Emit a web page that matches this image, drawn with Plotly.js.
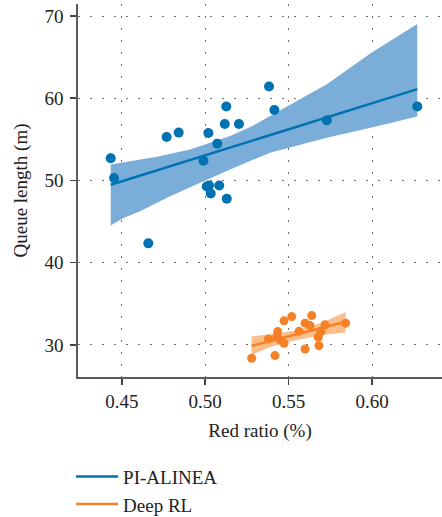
<!DOCTYPE html>
<html><head><meta charset="utf-8">
<script src="https://cdn.plot.ly/plotly-3.0.1.min.js"></script>
<style>html,body{margin:0;padding:0;background:#fff}#chart{width:442px;height:517px}</style>
</head><body><div id="chart"></div>
<script>
// ---- data ----
const seriesNames = ["PI-ALINEA", "Deep RL"];

const piX = [0.4434,0.4454,0.4659,0.4769,0.4841,0.4989,0.5019,0.5009,0.5023,0.5033,0.5084,0.5129,0.5072,0.5117,0.5126,0.5202,0.5382,0.5414,0.5728,0.6270];
const piY = [52.70,50.30,42.35,55.28,55.82,52.40,55.77,49.27,49.39,48.41,49.39,47.77,54.48,56.87,58.99,56.87,61.43,58.57,57.32,58.99];

const rlX = [0.5278,0.5378,0.5418,0.5434,0.5428,0.5448,0.5472,0.5472,0.5518,0.5562,0.5598,0.5628,0.5638,0.5677,0.5681,0.5693,0.5717,0.5841,0.5598];
const rlY = [28.38,30.73,28.70,31.62,31.01,30.61,30.21,32.93,33.45,31.65,32.65,32.35,33.57,30.94,29.91,31.62,32.44,32.65,29.51];

// confidence band edges
const piBandHighX = [0.4434,0.4710,0.4909,0.5149,0.5280,0.5388,0.5466,0.5728,0.5997,0.6270];
const piBandHigh  = [51.95,52.89,53.78,55.40,56.60,57.84,58.66,61.71,65.57,69.02];
const piBandLowX  = [0.4434,0.4510,0.4610,0.4789,0.4969,0.5149,0.5388,0.5728,0.5997,0.6270];
const piBandLow   = [44.51,45.45,46.26,48.09,49.72,51.34,53.38,55.21,56.43,57.77];

const rlBandX    = [0.5278,0.5400,0.5550,0.5700,0.5841];
const rlBandHigh = [31.05,31.30,31.80,32.70,34.00];
const rlBandLow  = [28.80,29.80,30.60,31.20,31.50];

const xTickVals = [0.45,0.50,0.55,0.60];
const xTickText = ["0.45","0.50","0.55","0.60"];
const yTickVals = [30,40,50,60,70];

const blue = "#0072B2", orange = "#F58025";
const blueBand = "rgb(123,173,217)", orangeBand = "rgb(250,190,140)";
const FONT = "Liberation Serif, DejaVu Serif, serif";

function fit(x, y) {
  const n = x.length;
  const mx = x.reduce((a,b)=>a+b,0)/n, my = y.reduce((a,b)=>a+b,0)/n;
  let sxy = 0, sxx = 0;
  for (let i=0;i<n;i++){ sxy += (x[i]-mx)*(y[i]-my); sxx += (x[i]-mx)*(x[i]-mx); }
  const b = sxy/sxx, a = my - b*mx;
  const x0 = Math.min(...x), x1 = Math.max(...x);
  return {x:[x0,x1], y:[a+b*x0, a+b*x1]};
}
function band(xh, yh, xl, yl) {
  return {x: xh.concat(xl.slice().reverse()), y: yh.concat(yl.slice().reverse())};
}

const piFit = fit(piX, piY), rlFit = fit(rlX, rlY);
const piB = band(piBandHighX, piBandHigh, piBandLowX, piBandLow);
const rlB = band(rlBandX, rlBandHigh, rlBandX, rlBandLow);

const traces = [
  {x: piB.x, y: piB.y, type:"scatter", mode:"lines", fill:"toself", fillcolor: blueBand, line:{width:0}, showlegend:false, hoverinfo:"skip"},
  {x: rlB.x, y: rlB.y, type:"scatter", mode:"lines", fill:"toself", fillcolor: orangeBand, line:{width:0}, showlegend:false, hoverinfo:"skip"},
  {x: piFit.x, y: piFit.y, type:"scatter", mode:"lines", name: seriesNames[0], line:{color: blue, width:2.5}},
  {x: rlFit.x, y: rlFit.y, type:"scatter", mode:"lines", name: seriesNames[1], line:{color: orange, width:2.5}},
  {x: piX, y: piY, type:"scatter", mode:"markers", marker:{color: blue, size:10}, showlegend:false},
  {x: rlX, y: rlY, type:"scatter", mode:"markers", marker:{color: orange, size:9}, showlegend:false}
];

const axisCommon = {
  automargin: false,
  showgrid: true, gridcolor: "#707070", gridwidth: 1, griddash: "2px,10px",
  zeroline: false, showline: true, linecolor: "#5a5a5a", linewidth: 1.8,
  ticks: "outside", ticklen: 6, tickwidth: 1.5, tickcolor: "#444",
  tickfont: {family: FONT, size: 19, color: "#222"}
};

const layout = {
  width: 442, height: 517,
  margin: {l: 78, r: 0, t: 4, b: 140},
  paper_bgcolor: "#fff", plot_bgcolor: "#fff",
  font: {family: FONT, color: "#222"},
  xaxis: Object.assign({}, axisCommon, {
    range: [0.4238, 0.6418], tickvals: xTickVals, ticktext: xTickText,
    ticklabelstandoff: 0,
    title: {text: "Red ratio (%)", font: {family: FONT, size: 19, color:"#222"}, standoff: 13}
  }),
  yaxis: Object.assign({}, axisCommon, {
    range: [26.1, 71.46], tickvals: yTickVals,
    ticklabelstandoff: 3,
    title: {text: "Queue length (m)", font: {family: FONT, size: 19, color:"#222"}, standoff: 12}
  }),
  legend: {
    xref: "paper", yref: "container",
    x: -0.019, y: 0.115, xanchor: "left", yanchor: "top", itemwidth: 42,
    font: {family: FONT, size: 19, color: "#222"}, bgcolor: "rgba(0,0,0,0)"
  },
  showlegend: true
};

Plotly.newPlot("chart", traces, layout, {displayModeBar: false, staticPlot: true});
</script>
</body></html>
